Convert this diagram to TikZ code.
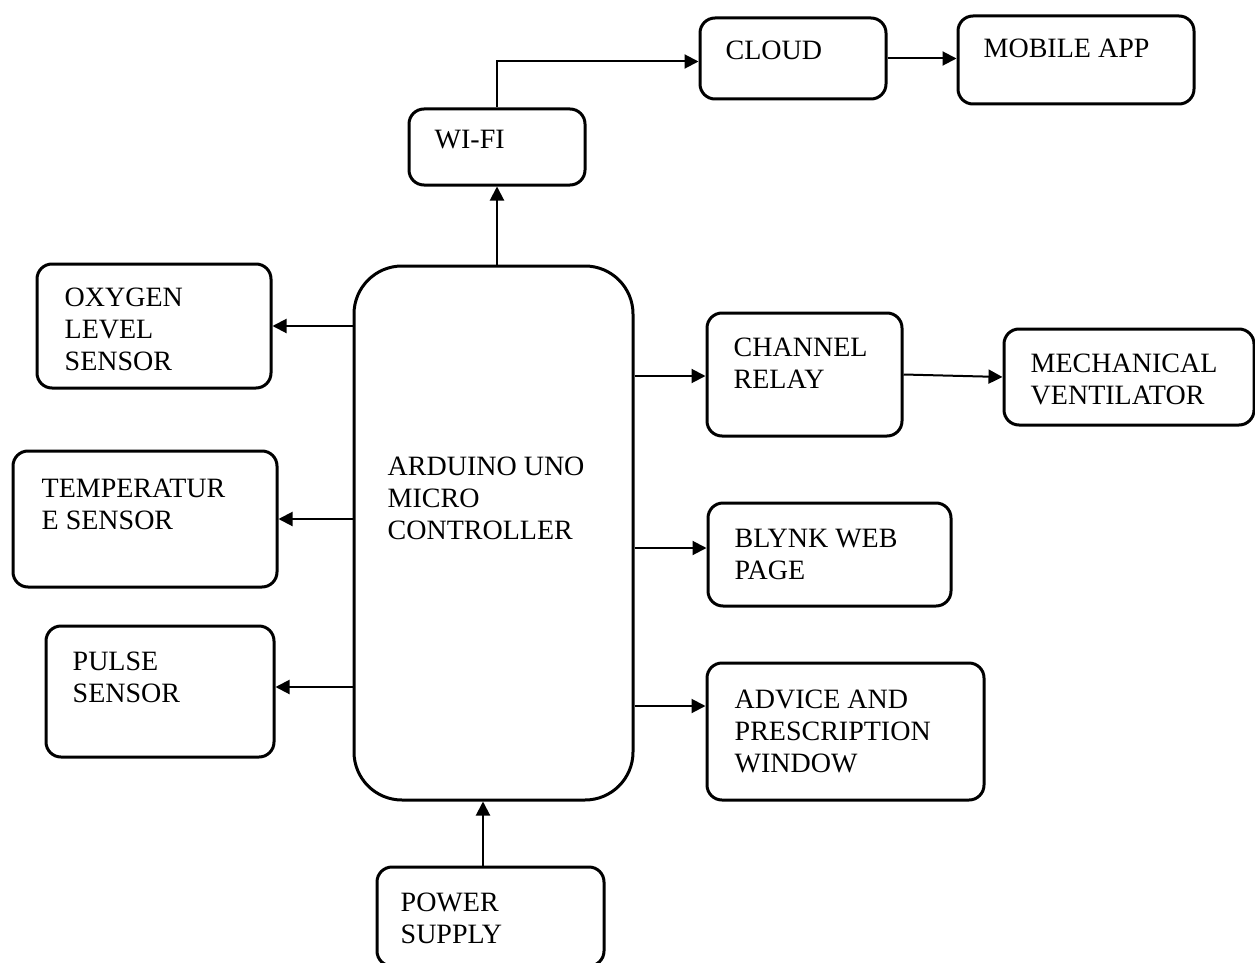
\documentclass[tikz,border=0pt]{standalone}
\usepackage{fontspec}
\setmainfont{Liberation Serif}
\usetikzlibrary{arrows.meta,calc}
\begin{document}
\begin{tikzpicture}[x=1pt,y=-1pt,
  box/.style={draw,line width=3pt,rounded corners=15pt,inner sep=0pt},
  bigbox/.style={box,rounded corners=48pt},
  lbl/.style={anchor=north west,inner sep=0pt,align=left,font=\fontsize{28}{32}\selectfont},
  arr/.style={line width=2pt,-{Triangle[length=14pt,width=14pt]}}]
\useasboundingbox (0,0) rectangle (1255,963);
% boxes
\node[box,minimum width=186pt,minimum height=81pt] (cloud) at (793,58.5) {};
\node[box,minimum width=236pt,minimum height=88pt] (mobile) at (1076,60) {};
\node[box,minimum width=176pt,minimum height=76pt] (wifi) at (497,147) {};
\node[box,minimum width=234pt,minimum height=124pt] (oxygen) at (154,326) {};
\node[bigbox,minimum width=279pt,minimum height=534pt] (arduino) at (493.5,533) {};
\node[box,minimum width=195pt,minimum height=123pt] (relay) at (804.5,374.5) {};
\node[box,minimum width=250pt,minimum height=96pt] (vent) at (1129,377) {};
\node[box,minimum width=264pt,minimum height=136pt] (temp) at (145,519) {};
\node[box,minimum width=243pt,minimum height=103pt] (blynk) at (829.5,554.5) {};
\node[box,minimum width=228pt,minimum height=131pt] (pulse) at (160,691.5) {};
\node[box,minimum width=277pt,minimum height=137pt] (advice) at (845.5,731.5) {};
\node[box,minimum width=227pt,minimum height=99pt] (power) at (490.5,916.5) {};
% labels
\node[lbl] (tcloud) at ($(cloud.north west)+(27,24)$) {CLOUD};
\node[lbl] (tmobile) at ($(mobile.north west)+(27,24)$) {MOBILE APP};
\node[lbl] (twifi) at ($(wifi.north west)+(27,22)$) {WI-FI};
\node[lbl] (toxygen) at ($(oxygen.north west)+(29,25)$) {OXYGEN\\LEVEL\\SENSOR};
\node[lbl] (tarduino) at ($(arduino.north west)+(35,192)$) {ARDUINO UNO\\MICRO\\CONTROLLER};
\node[lbl] (trelay) at ($(relay.north west)+(28,26)$) {CHANNEL\\RELAY};
\node[lbl] (tvent) at ($(vent.north west)+(28,26)$) {MECHANICAL\\VENTILATOR};
\node[lbl] (ttemp) at ($(temp.north west)+(30,29)$) {TEMPERATUR\\E SENSOR};
\node[lbl] (tblynk) at ($(blynk.north west)+(28,27)$) {BLYNK WEB\\PAGE};
\node[lbl] (tpulse) at ($(pulse.north west)+(28,27)$) {PULSE\\SENSOR};
\node[lbl] (tadvice) at ($(advice.north west)+(29,28)$) {ADVICE AND\\PRESCRIPTION\\WINDOW};
\node[lbl] (tpower) at ($(power.north west)+(25,27)$) {POWER\\SUPPLY};
% connectors
\draw[arr] (arduino.north -| wifi.south) -- (wifi.south);
\draw[arr] (wifi.north) |- ($(cloud.west)+(0,3)$);
\draw[arr] (cloud.east) -- (cloud.east -| mobile.west);
\draw[arr] (arduino.west |- oxygen.east) -- (oxygen.east);
\draw[arr] (arduino.west |- temp.east) -- (temp.east);
\draw[arr] (arduino.west |- 0,687) -- (pulse.east |- 0,687);
\draw[arr] (arduino.east |- 0,376) -- (relay.west |- 0,376);
\draw[arr] (relay.east) -- (vent.west);
\draw[arr] (arduino.east |- 0,548) -- (blynk.west |- 0,548);
\draw[arr] (arduino.east |- 0,706) -- (advice.west |- 0,706);
\draw[arr] (power.north -| 483,0) -- (arduino.south -| 483,0);
\end{tikzpicture}
\end{document}
